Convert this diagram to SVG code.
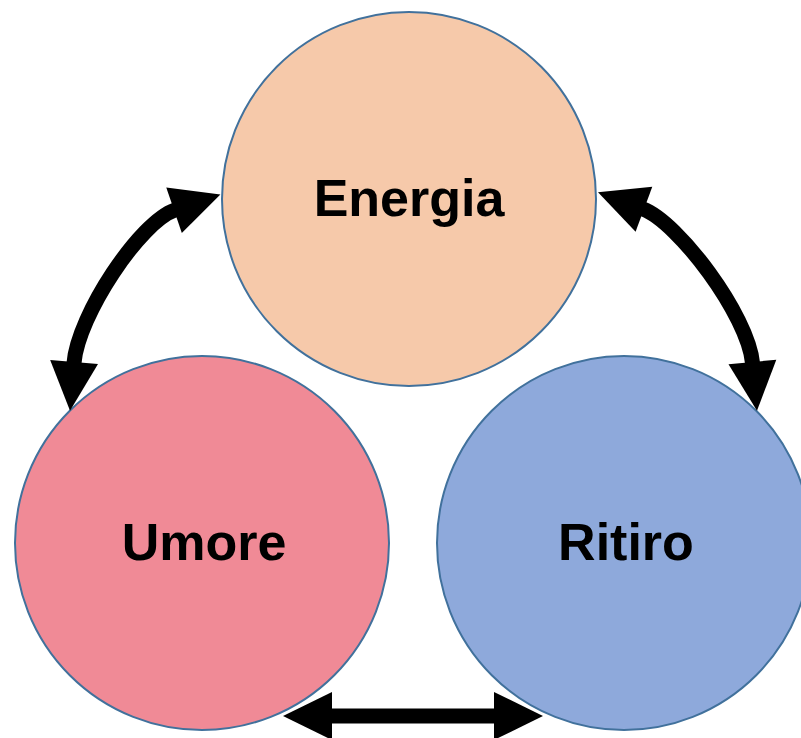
<svg xmlns="http://www.w3.org/2000/svg" width="801" height="738" viewBox="0 0 801 738">
<style>
.node{stroke:#41719C;stroke-width:2}
.lbl{font-family:"Liberation Sans",Arial,sans-serif;font-weight:bold;font-size:52px;fill:#000;text-anchor:middle}
.conn{fill:none;stroke:#000;stroke-width:15}
</style>
<defs>
<marker id="ah" markerUnits="userSpaceOnUse" markerWidth="48" markerHeight="48" refX="0" refY="24" orient="auto-start-reverse" overflow="visible">
<path d="M-1,0 L48,24 L-1,48 Z" fill="#000"/>
</marker>
</defs>
<rect width="801" height="738" fill="#fff"/>
<g id="energia">
<circle class="node" cx="409" cy="199" r="187" fill="#F6C9AA"/>
<text class="lbl" x="409" y="216">Energia</text>
</g>
<g id="umore">
<circle class="node" cx="202" cy="543" r="187" fill="#F08A96"/>
<text class="lbl" x="204" y="560">Umore</text>
</g>
<g id="ritiro">
<circle class="node" cx="624" cy="543" r="187" fill="#8EA9DB"/>
<text class="lbl" x="626" y="560">Ritiro</text>
</g>
<g id="connectors">
<path class="conn" d="M74,363 C78,315 140,222 175,210" marker-start="url(#ah)" marker-end="url(#ah)"/>
<path class="conn" d="M643,209 C678,222 748,315 752.5,363" marker-start="url(#ah)" marker-end="url(#ah)"/>
<path class="conn" d="M331,716 L495,716" marker-start="url(#ah)" marker-end="url(#ah)"/>
</g>
</svg>
